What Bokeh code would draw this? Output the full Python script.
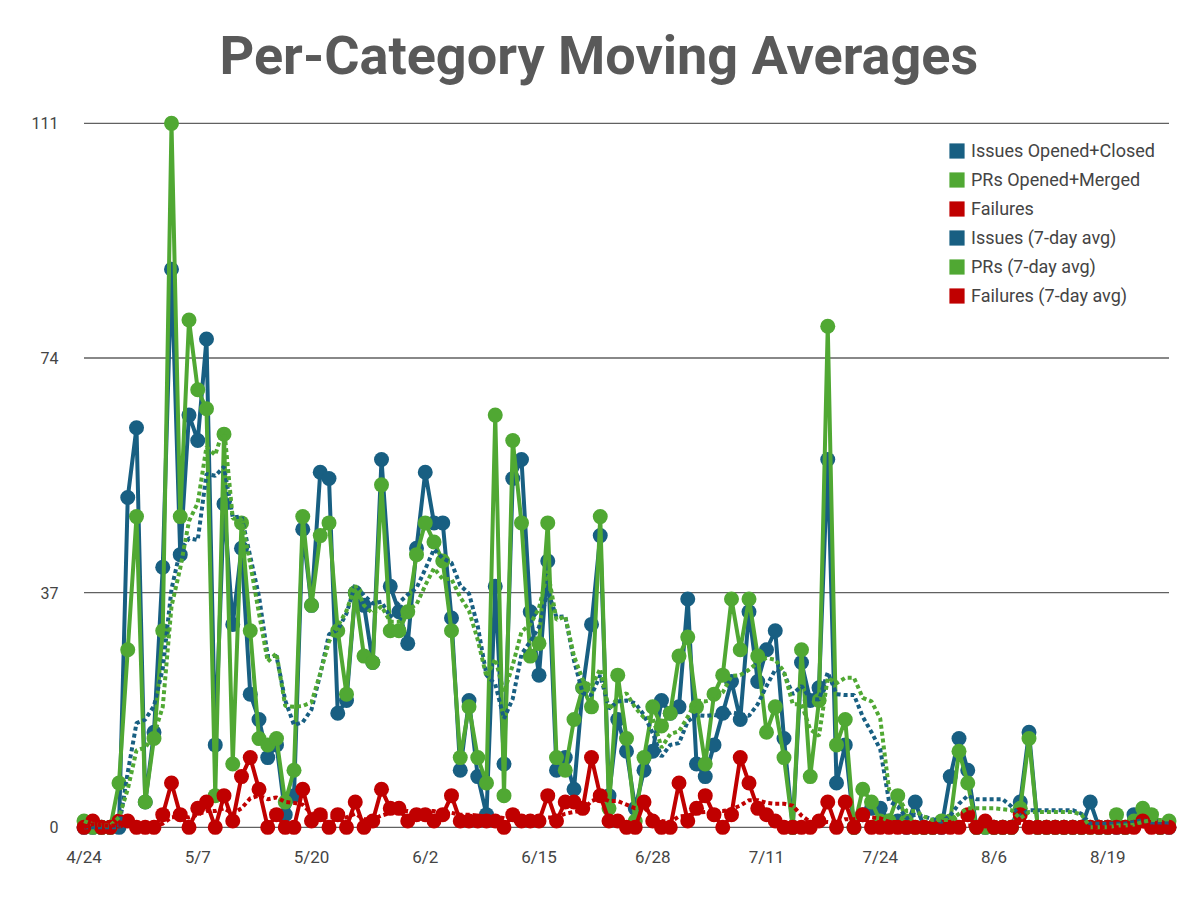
import pandas as pd
from bokeh.plotting import figure
from bokeh.models import Range1d, FixedTicker, Legend, LegendItem
from bokeh.embed import file_html
from bokeh.resources import INLINE

# ---------------- data ----------------
start_date = "2019-04-24"
tick_every = 13
y_ticks = [0, 37, 74, 111]

series_names = ["Issues Opened+Closed", "PRs Opened+Merged", "Failures"]
avg_names = ["Issues (7-day avg)", "PRs (7-day avg)", "Failures (7-day avg)"]
avg_window = 7

issues = [0, 0, 0, 0, 0, 52, 63, 4, 15, 41,
          88, 43, 65, 61, 77, 13, 51, 32, 44, 21,
          17, 11, 13, 2, 5, 47, 35, 56, 55, 18,
          20, 37, 35, 26, 58, 38, 34, 29, 44, 56,
          48, 48, 33, 9, 20, 8, 2, 38, 10, 55,
          58, 34, 24, 42, 9, 11, 6, 22, 32, 46,
          5, 17, 12, 3, 9, 12, 20, 18, 19, 36,
          10, 8, 13, 18, 23, 17, 34, 23, 28, 31,
          14, 0, 26, 20, 22, 58, 7, 13, 0, 2,
          3, 3, 1, 1, 0, 4, 0, 0, 0, 8,
          14, 9, 0, 0, 0, 0, 0, 4, 15, 0,
          0, 0, 0, 0, 0, 4, 0, 0, 0, 0,
          2, 2, 1, 0, 0]

prs = [1, 0, 0, 0, 7, 28, 49, 4, 14, 31,
       111, 49, 80, 69, 66, 5, 62, 10, 48, 31,
       14, 13, 14, 4, 9, 49, 35, 46, 48, 31,
       21, 37, 27, 26, 54, 31, 31, 34, 43, 48,
       45, 42, 31, 11, 19, 11, 7, 65, 5, 61,
       48, 27, 29, 48, 11, 9, 17, 22, 19, 49,
       3, 24, 14, 1, 11, 19, 16, 18, 27, 30,
       19, 10, 21, 24, 36, 28, 36, 27, 15, 19,
       11, 0, 28, 8, 20, 79, 13, 17, 0, 6,
       4, 1, 1, 5, 1, 0, 0, 0, 1, 1,
       12, 7, 0, 0, 0, 0, 0, 3, 14, 0,
       0, 0, 0, 0, 0, 0, 0, 0, 2, 0,
       1, 3, 2, 0, 1]

failures = [0, 1, 0, 0, 1, 1, 0, 0, 0, 2,
            7, 2, 0, 3, 4, 0, 5, 1, 8, 11,
            6, 0, 2, 0, 0, 6, 1, 2, 0, 2,
            0, 4, 0, 1, 6, 3, 3, 1, 2, 2,
            1, 2, 5, 1, 1, 1, 1, 1, 0, 2,
            1, 1, 1, 5, 1, 4, 4, 3, 11, 5,
            1, 1, 0, 0, 4, 1, 0, 0, 7, 1,
            3, 5, 2, 0, 2, 11, 7, 3, 2, 1,
            0, 0, 0, 0, 1, 4, 0, 4, 0, 2,
            0, 0, 0, 0, 0, 0, 0, 0, 0, 0,
            0, 2, 0, 1, 0, 0, 0, 2, 0, 0,
            0, 0, 0, 0, 0, 0, 0, 0, 0, 0,
            0, 1, 0, 0, 0]

# ---------------- derived ----------------
n = len(issues)
days = list(range(n))
dates = pd.date_range(start_date, periods=n, freq="D")
date_labels = [f"{d.month}/{d.day}" for d in dates]
x_ticks = days[::tick_every]


def moving_avg(vals):
    return pd.Series(vals, dtype=float).rolling(avg_window, min_periods=1).mean().tolist()


BLUE = "#185F82"
GREEN = "#50A833"
RED = "#C00000"
colors = [BLUE, GREEN, RED]
TEXT = "#444444"
FONT = "Roboto"

p = figure(width=1200, height=900, output_backend="svg", toolbar_location=None,
           x_range=Range1d(-1.2, n - 1 + 1.2), y_range=Range1d(-1.6, 113.5),
           min_border_left=73, min_border_right=21, min_border_top=107, min_border_bottom=63,
           title="Per-Category Moving Averages")
p.outline_line_color = None
p.xgrid.visible = False
p.ygrid.visible = False
p.background_fill_color = "white"
p.border_fill_color = "white"

p.title.align = "left"
p.title.offset = 146
p.title.text_font = FONT
p.title.text_font_style = "bold"
p.title.text_font_size = "54px"
p.title.text_color = "#595959"
p.title.standoff = 42

# axes
p.xaxis.ticker = FixedTicker(ticks=x_ticks)
p.xaxis.major_label_overrides = {i: date_labels[i] for i in x_ticks}
p.yaxis.ticker = FixedTicker(ticks=y_ticks)
for ax in (p.xaxis, p.yaxis):
    ax.axis_line_color = None
    ax.major_tick_line_color = None
    ax.minor_tick_line_color = None
    ax.major_tick_out = 0
    ax.major_tick_in = 0
    ax.minor_tick_out = 0
    ax.minor_tick_in = 0
    ax.major_label_text_font = FONT
    ax.major_label_text_color = TEXT
p.xaxis.major_label_text_font_size = "17px"
p.yaxis.major_label_text_font_size = "16px"
p.xaxis.major_label_standoff = 9
p.yaxis.major_label_standoff = 15

# horizontal gridlines spanning the data
p.segment(x0=[days[0]] * len(y_ticks), x1=[days[-1]] * len(y_ticks),
          y0=y_ticks, y1=y_ticks, line_color="#616161", line_width=1.3)

# main series
for vals, c in zip([issues, prs, failures], colors):
    p.line(days, vals, line_color=c, line_width=4, line_join="round")
    p.scatter(days, vals, size=15, fill_color=c, line_color=None)

# moving averages
for vals, c in zip([issues, prs, failures], colors):
    p.line(days, moving_avg(vals), line_color=c, line_width=4, line_dash="4 3")

# legend with square swatches
items = []
for name, c in zip(series_names + avg_names, colors + colors):
    r = p.rect(x=[float("nan")], y=[float("nan")], width=1, height=1,
               fill_color=c, line_color=None)
    items.append(LegendItem(label=name, renderers=[r]))

legend = Legend(items=items, location=(874, 531), orientation="vertical",
                glyph_width=19, glyph_height=19, label_standoff=5, spacing=8,
                padding=0, margin=0, border_line_color=None, background_fill_alpha=0,
                label_text_font=FONT, label_text_font_size="18px",
                label_text_color=TEXT, label_height=20)
p.add_layout(legend)

open("out.html", "w").write(file_html(p, INLINE))
